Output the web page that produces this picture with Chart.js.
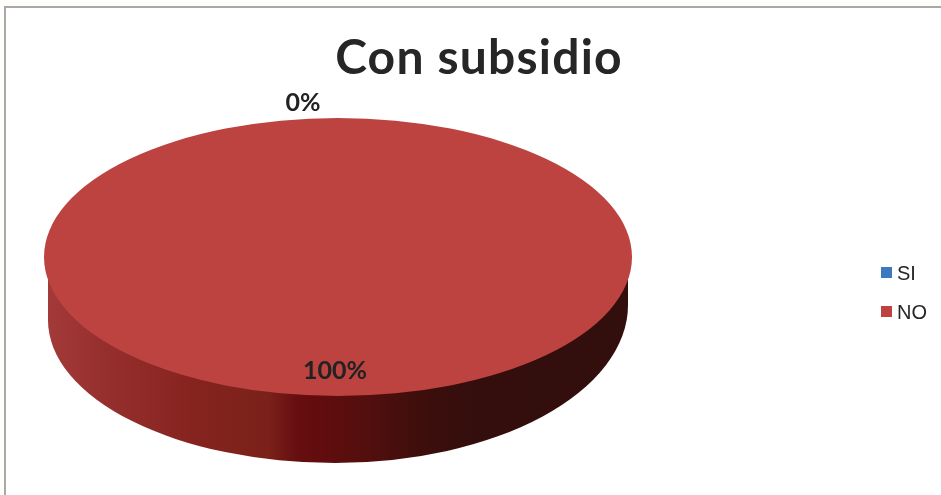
<!DOCTYPE html>
<html>
<head>
<meta charset="utf-8">
<title>Con subsidio</title>
<script src="https://cdn.jsdelivr.net/npm/chart.js@4/dist/chart.umd.js"></script>
<style>
  html, body { margin: 0; padding: 0; background: #fffefb; overflow: hidden; }
  #frame { position: absolute; left: 4px; top: 6px; right: -4px; bottom: -4px; background: #fff; border: 2px solid #a8a8a8; }
  #chart { position: absolute; left: 0; top: 0; }
</style>
</head>
<body>
<div id="frame"></div>
<canvas id="chart" width="941" height="495"></canvas>
<script>
const chartTitle = "Con subsidio";
const categories = ["SI", "NO"];
const shares = [0, 100];
const sliceColors = ["#3d79bf", "#bd4340"];

// Pie is a circle of radius 139 in the layout, stretched sideways into the disc
const stretchX = 294 / 139;

// Side wall below the disc: the two lower quarters have slightly different curves
const wall = {
  shiftX: -3,
  topY: 12,
  left: { rx: 287, ry: 143, dy: 63 },
  right: { rx: 293, ry: 158, dy: 48 }
};
const wallStops = [
  [0.00, "#a23a39"], [0.10, "#952f2d"], [0.25, "#86231f"], [0.38, "#7a211a"],
  [0.43, "#660e10"], [0.47, "#620c0e"], [0.55, "#520f0d"], [0.65, "#3c0e0c"],
  [0.75, "#330e0d"], [1.00, "#320e0d"]
];

// Where each percent sits: fraction of the radius along the slice middle, then a nudge
const labelSpots = [
  { along: 1.108, nudgeX: -35 },
  { along: 0.82, nudgeX: -3 }
];

const pie3d = {
  id: "pie3d",
  afterLayout(chart) {
    // Title is centred over the plot and legend together, not over the pie
    chart.titleBlock.left += 141;
    chart.titleBlock.right += 141;
  },
  beforeDraw(chart) {
    // Spaced-out title lettering; cleared again before the marks
    chart.ctx.letterSpacing = "1.2px";
  },
  beforeDatasetsDraw(chart) {
    const ctx = chart.ctx;
    ctx.letterSpacing = "0px";
    const arc = chart.getDatasetMeta(0).data[1];
    const x0 = arc.x + wall.shiftX;
    const xl = x0 - wall.left.rx;
    const xr = x0 + wall.right.rx;

    const fill = ctx.createLinearGradient(xl, 0, xr, 0);
    wallStops.forEach(s => fill.addColorStop(s[0], s[1]));
    ctx.save();
    ctx.fillStyle = fill;
    ctx.beginPath();
    ctx.moveTo(xl, arc.y + wall.topY);
    ctx.lineTo(xr, arc.y + wall.topY);
    ctx.ellipse(x0, arc.y + wall.right.dy, wall.right.rx, wall.right.ry, 0, 0, Math.PI / 2);
    ctx.ellipse(x0, arc.y + wall.left.dy, wall.left.rx, wall.left.ry, 0, Math.PI / 2, Math.PI);
    ctx.closePath();
    ctx.fill();
    ctx.restore();

    ctx.save();
    ctx.translate(arc.x, arc.y);
    ctx.scale(stretchX, 1);
    ctx.translate(-arc.x, -arc.y);
  },
  afterDatasetsDraw(chart) {
    const ctx = chart.ctx;
    ctx.restore();

    // Percent labels
    const total = shares.reduce((a, b) => a + b, 0);
    ctx.save();
    ctx.font = "bold 25px Lato";
    ctx.fillStyle = "#222222";
    ctx.textAlign = "center";
    ctx.textBaseline = "middle";
    chart.getDatasetMeta(0).data.forEach((arc, i) => {
      const mid = (arc.startAngle + arc.endAngle) / 2;
      const r = arc.outerRadius * labelSpots[i].along;
      const x = arc.x + Math.cos(mid) * r * stretchX + labelSpots[i].nudgeX;
      const y = arc.y + Math.sin(mid) * r;
      ctx.fillText(Math.round(shares[i] / total * 100) + "%", x, y);
    });
    ctx.restore();

    // Legend, with a tighter swatch gap than the built-in one allows
    ctx.save();
    ctx.font = "20px 'Liberation Sans'";
    ctx.textAlign = "left";
    ctx.textBaseline = "middle";
    categories.forEach((name, i) => {
      const y = 273 + i * 39;
      ctx.fillStyle = sliceColors[i];
      ctx.fillRect(881, y - 6, 11, 11);
      ctx.fillStyle = "#262626";
      ctx.fillText(name, 897, y + 1);
    });
    ctx.restore();
  }
};

new Chart(document.getElementById("chart"), {
  type: "pie",
  data: {
    labels: categories,
    datasets: [{
      data: shares,
      backgroundColor: sliceColors,
      borderWidth: 0,
      clip: false
    }]
  },
  options: {
    responsive: false,
    animation: false,
    layout: { padding: { top: 35, left: 44, right: 309, bottom: 99 } },
    plugins: {
      legend: { display: false },
      tooltip: { enabled: false },
      title: {
        display: true,
        text: chartTitle,
        color: "#262626",
        font: { family: "Lato", size: 48, weight: "bold", lineHeight: 1 },
        padding: { top: 0, bottom: 35 }
      }
    }
  },
  plugins: [pie3d]
});
</script>
</body>
</html>
